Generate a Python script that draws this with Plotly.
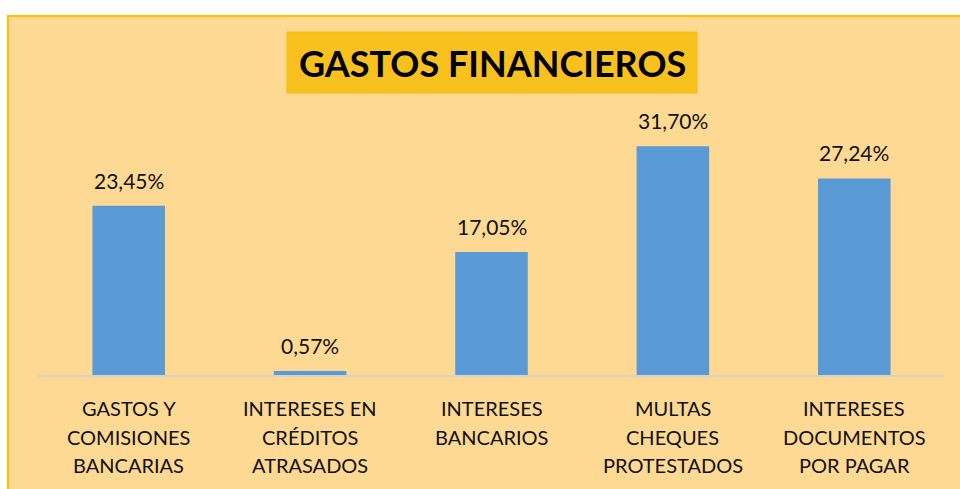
import plotly.graph_objects as go

categories = ["GASTOS Y<br>COMISIONES<br>BANCARIAS",
              "INTERESES EN<br>CRÉDITOS<br>ATRASADOS",
              "INTERESES<br>BANCARIOS",
              "MULTAS<br>CHEQUES<br>PROTESTADOS",
              "INTERESES<br>DOCUMENTOS<br>POR PAGAR"]
values = [23.45, 0.57, 17.05, 31.70, 27.24]
title_text = "GASTOS FINANCIEROS"

W, H = 960, 489
ML, MR, MT, MB = 38, 15, 100, 114
PW, PH = W - ML - MR, H - MT - MB
YMAX = 38.1

def px_x(p):
    return (p - ML) / PW

def px_y(p):
    return (H - MB - p) / PH

FONT = "Lato"
fig = go.Figure()
fig.add_trace(go.Bar(
    x=list(range(len(categories))), y=values,
    marker=dict(color="#5B9BD5", line=dict(width=0)),
    hoverinfo="skip",
))

# value labels
for i, v in enumerate(values):
    fig.add_annotation(x=i, y=v, xref="x", yref="y",
                       text=f"{v:.2f}%".replace(".", ","),
                       showarrow=False, xanchor="center", yanchor="bottom", yshift=11,
                       font=dict(family=FONT, size=21, color="#111111"))

# category labels, one annotation per line
line_y = [408, 437, 465]
for i, c in enumerate(categories):
    for j, line in enumerate(c.split("<br>")):
        fig.add_annotation(x=i, y=px_y(line_y[j]), xref="x", yref="paper",
                           text=line, showarrow=False, xanchor="center", yanchor="middle",
                           font=dict(family=FONT, size=20, color="#111111"))

# background panel
fig.add_shape(type="rect", xref="paper", yref="paper", layer="below",
              x0=px_x(8), x1=px_x(965), y0=px_y(495), y1=px_y(16),
              fillcolor="#FED994", line=dict(color="#FFC000", width=2))

# title box
fig.add_shape(type="rect", xref="paper", yref="paper", layer="below",
              x0=px_x(287), x1=px_x(697), y0=px_y(93), y1=px_y(32),
              fillcolor="#F9C11E", line=dict(color="#F5BD10", width=1))
fig.add_annotation(x=px_x(492), y=px_y(63), xref="paper", yref="paper",
                   text=f"<b>{title_text}</b>", showarrow=False,
                   xanchor="center", yanchor="middle",
                   font=dict(family=FONT, size=36, color="#000000"))

fig.update_layout(
    width=W, height=H,
    margin=dict(l=ML, r=MR, t=MT, b=MB, autoexpand=False),
    paper_bgcolor="white", plot_bgcolor="rgba(0,0,0,0)",
    bargap=0.6, showlegend=False,
    xaxis=dict(range=[-0.5, len(categories) - 0.5], showticklabels=False,
               showgrid=False, zeroline=False, showline=True,
               linecolor="#D6D3CC", linewidth=2, ticks=""),
    yaxis=dict(range=[0, YMAX], visible=False, showgrid=False, zeroline=False),
)

fig.write_html("out.html", config={"displayModeBar": False},
               post_script="document.body.style.margin='0';")
